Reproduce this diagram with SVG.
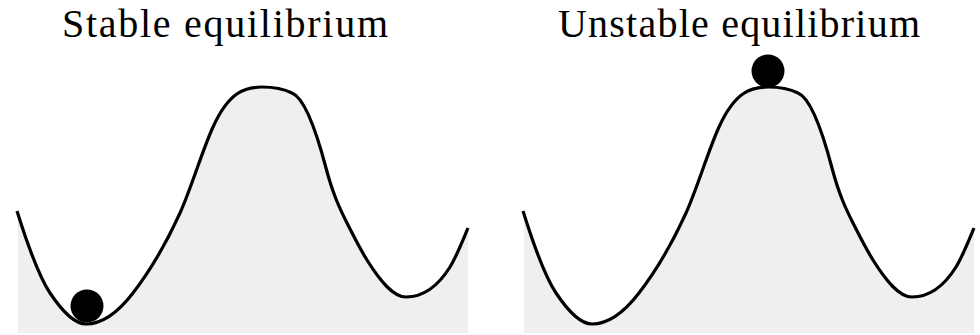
<svg xmlns="http://www.w3.org/2000/svg" width="980" height="335" viewBox="0 0 980 335">
<defs>
<style>
.title{font-family:"Liberation Serif","DejaVu Serif",serif;font-size:40px;fill:#000}
.ground{fill:#efefef;stroke:none}
.curve{fill:none;stroke:#000;stroke-width:3.2;stroke-linecap:butt;stroke-linejoin:round}
.ball{fill:#000}
</style>
<path id="landscape" d="M17,211 C28,246.2 39,276.5 50,293 C62,311 74,324 86,324 C101.7,324 117.3,313.4 133,293 C148.7,272.6 164.3,247.5 180,213 C191,188.8 202,151.2 213,127 C229.3,91.1 245.7,87 262,87 C272,87 282,88 292,93 C303.3,97.5 314.7,125 326,168 C333,194.6 340,209 347,223 C353.7,236.3 360.3,249.3 367,260 C380,280.8 393,297 406,297 C420.7,297 435.3,290.5 450,267 C456,257.4 462,242.4 468,228"/>
<path id="area" d="M17,211 C28,246.2 39,276.5 50,293 C62,311 74,324 86,324 C101.7,324 117.3,313.4 133,293 C148.7,272.6 164.3,247.5 180,213 C191,188.8 202,151.2 213,127 C229.3,91.1 245.7,87 262,87 C272,87 282,88 292,93 C303.3,97.5 314.7,125 326,168 C333,194.6 340,209 347,223 C353.7,236.3 360.3,249.3 367,260 C380,280.8 393,297 406,297 C420.7,297 435.3,290.5 450,267 C456,257.4 462,242.4 468,228 L468,333 L18,333 L18,211 Z"/>
</defs>
<g id="stable">
<use href="#area" class="ground"/>
<use href="#landscape" class="curve"/>
<circle class="ball" cx="87" cy="306" r="16.5"/>
<text class="title" x="62" y="37" textLength="326" lengthAdjust="spacing">Stable equilibrium</text>
</g>
<g id="unstable">
<g transform="translate(506,0)">
<use href="#area" class="ground"/>
<use href="#landscape" class="curve"/>
</g>
<circle class="ball" cx="768" cy="71" r="16.5"/>
<text class="title" x="558" y="37" textLength="362" lengthAdjust="spacing">Unstable equilibrium</text>
</g>
</svg>
